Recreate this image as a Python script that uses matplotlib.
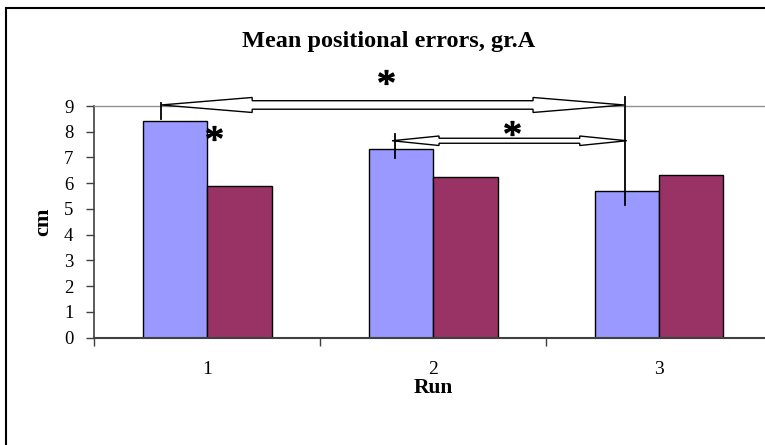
import matplotlib
matplotlib.use("Agg")
import matplotlib.pyplot as plt
from matplotlib.patches import Polygon, Rectangle
from matplotlib.transforms import IdentityTransform
import numpy as np

# ---- data ----
runs = ["1", "2", "3"]
series_a = [8.43, 7.32, 5.71]   # light blue bars
series_b = [5.89, 6.25, 6.33]   # maroon bars
y_ticks = [0, 1, 2, 3, 4, 5, 6, 7, 8, 9]
title = "Mean positional errors, gr.A"
x_label = "Run"
y_label = "cm"

# significance annotations (data coordinates: x in category units, y in cm)
big_arrow = dict(x0=-0.204, x1=1.845, y=9.04)
small_arrow = dict(x0=0.818, x1=1.857, y=7.65)
v_lines = [(-0.204, 8.50, 9.13), (1.85, 5.17, 9.36), (0.832, 6.98, 7.91)]
stars = [(0.79, 10.12), (1.35, 8.14), (0.03, 7.94)]

plt.rcParams['font.family'] = ['Liberation Serif', 'DejaVu Serif']
plt.rcParams['mathtext.fontset'] = 'custom'
plt.rcParams['mathtext.rm'] = 'Liberation Serif'
plt.rcParams['mathtext.it'] = 'Liberation Serif'

W, H = 765, 445
fig = plt.figure(figsize=(W / 100, H / 100), dpi=100)
fig.patch.set_facecolor('white')

# outer chart frame
fig.patches.append(Rectangle((6 / W, -0.1), 1.2, 1 - 8 / H + 0.1,
                             transform=fig.transFigure, fill=False,
                             edgecolor='black', linewidth=1.5))

ax = fig.add_axes([94.3 / W, 107.3 / H, 677.7 / W, (339 - 107.3) / H])
ax.set_facecolor('none')

x = np.arange(len(runs))
bw = 0.285
ax.bar(x - bw / 2, series_a, bw, color='#9999FF', edgecolor='black', linewidth=1.0, zorder=2)
ax.bar(x + bw / 2, series_b, bw, color='#993366', edgecolor='black', linewidth=1.0, zorder=2)

ax.set_xlim(-0.5, 2.5)
ax.set_ylim(0, 9)
ax.set_yticks(y_ticks)
ax.set_yticklabels([str(v) for v in y_ticks])
ax.set_xticks(x)
ax.set_xticklabels(runs)
ax.set_xticks([-0.5, 0.5, 1.5, 2.5], minor=True)
ax.tick_params(axis='x', which='major', length=0, pad=17, labelsize=14)
ax.tick_params(axis='x', which='minor', length=6, width=1, color='#404040', direction='out')
ax.tick_params(axis='y', length=6, width=1, color='#404040', direction='out', pad=9, labelsize=13.5)

ax.spines['right'].set_visible(False)
ax.spines['top'].set_color('#909090')
ax.spines['top'].set_linewidth(1.0)
ax.spines['left'].set_color('#404040')
ax.spines['bottom'].set_color('#404040')
ax.spines['left'].set_linewidth(1.2)
ax.spines['bottom'].set_linewidth(1.5)

ax.set_xlabel(x_label, fontsize=15.5, fontweight='bold', labelpad=0)
ax.set_ylabel(y_label, fontsize=16, fontweight='bold', labelpad=8)
fig.text(389 / W, 1 - 41 / H, title, fontsize=17.5, fontweight='bold',
         ha='center', va='center')

fig.canvas.draw()


def hollow_arrow(x0, x1, y, hl, hw, sw):
    (px0, py), (px1, _) = ax.transData.transform([(x0, y), (x1, y)])
    verts = [(px0, py), (px0 + hl, py + hw / 2), (px0 + hl, py + sw / 2),
             (px1 - hl, py + sw / 2), (px1 - hl, py + hw / 2), (px1, py),
             (px1 - hl, py - hw / 2), (px1 - hl, py - sw / 2),
             (px0 + hl, py - sw / 2), (px0 + hl, py - hw / 2)]
    poly = Polygon(verts, closed=True, transform=IdentityTransform(),
                   facecolor='white', edgecolor='black', linewidth=1.0,
                   clip_on=False, zorder=4)
    ax.add_patch(poly)


hollow_arrow(big_arrow['x0'], big_arrow['x1'], big_arrow['y'], 91, 15, 8.5)
hollow_arrow(small_arrow['x0'], small_arrow['x1'], small_arrow['y'], 47, 9.5, 5)

for vx, y0, y1 in v_lines:
    ax.plot([vx, vx], [y0, y1], color='black', linewidth=1.3, clip_on=False, zorder=5)

for sx, sy in stars:
    ax.plot([sx], [sy], marker=r'$*$', markersize=11, color='black',
            linestyle='none', clip_on=False, zorder=6)

fig.savefig('out.png', dpi=100)
